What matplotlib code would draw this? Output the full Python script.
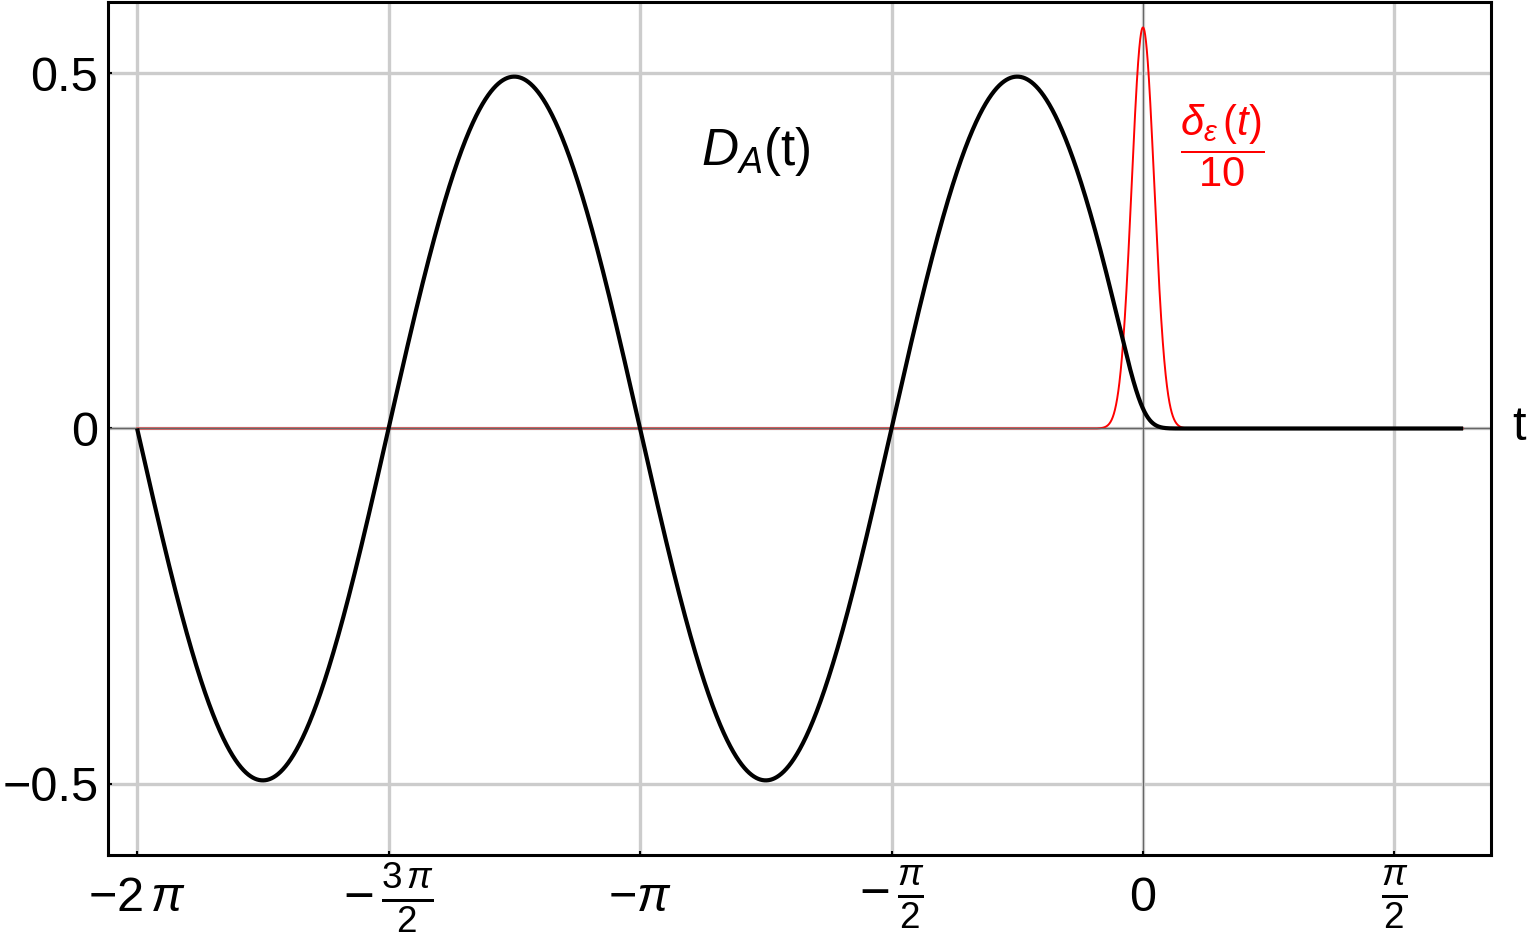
import numpy as np
import matplotlib
matplotlib.use("Agg")
import matplotlib.pyplot as plt

plt.rcParams['font.family'] = ['Liberation Sans', 'DejaVu Sans']
plt.rcParams['mathtext.fontset'] = 'custom'
plt.rcParams['mathtext.rm'] = 'Liberation Sans'
plt.rcParams['mathtext.it'] = 'Liberation Sans:italic'
plt.rcParams['mathtext.bf'] = 'Liberation Sans:bold'

# ---- data / parameters ----
T_START = -2 * np.pi          # curves start at -2 pi
T_END = 2.0                   # curves end near t = 2
AMPLITUDE = 0.5               # D_A oscillates between -0.5 and 0.5
OMEGA = 2.0                   # zeros every pi/2
EPS = 0.1                     # width of the nascent delta (peak of delta/10 ~ 0.564)
DELTA_SCALE = 10              # red curve is delta_eps(t)/10

xtick_vals = [-2 * np.pi, -1.5 * np.pi, -np.pi, -0.5 * np.pi, 0.0, 0.5 * np.pi]
xtick_labels = [r'$-2\,\pi$', r'$-\,\frac{3\,\pi}{2}$', r'$-\pi$',
                r'$-\,\frac{\pi}{2}$', '0', r'$\frac{\pi}{2}$']
ytick_vals = [-0.5, 0.0, 0.5]
ytick_labels = ['\u22120.5', '0', '0.5']
x_limits = [-6.465, 2.174]
y_limits = [-0.6, 0.6]

# ---- curves ----
dt = 0.001
t_full = np.arange(T_START - 1.0, T_END + 1.0, dt)
delta = lambda x: np.exp(-(x / EPS) ** 2) / (EPS * np.sqrt(np.pi))
g = -AMPLITUDE * np.sin(OMEGA * t_full) * (t_full < 0)
k_t = np.arange(-6 * EPS, 6 * EPS + dt / 2, dt)
D_full = np.convolve(g, delta(k_t), mode='same') * dt
mask = (t_full >= T_START) & (t_full <= T_END)
t = t_full[mask]
D_A = D_full[mask]
red = delta(t) / DELTA_SCALE

# ---- figure ----
W, H = 1528, 939
fig = plt.figure(figsize=(W / 100, H / 100), dpi=100)
ax = fig.add_axes([108 / W, 1 - 855 / H, (1491 - 108) / W, (855 - 2) / H])

ax.set_xlim(x_limits)
ax.set_ylim(y_limits)

for xv in xtick_vals:
    ax.axvline(xv, color='#cccccc', lw=2.4, zorder=0)
for yv in ytick_vals:
    ax.axhline(yv, color='#cccccc', lw=2.4, zorder=0)

ax.plot(t, red, color='#ff0000', lw=1.4, zorder=2)
ax.axhline(0, color='#666666', lw=1.0, zorder=2.5)
ax.axvline(0, color='#666666', lw=0.8, zorder=1)
ax.plot(t, D_A, color='black', lw=3.0, zorder=3, solid_capstyle='butt')

ax.set_xticks(xtick_vals)
ax.set_xticklabels(xtick_labels, fontsize=35)
ax.set_yticks(ytick_vals)
ax.set_yticklabels(ytick_labels, fontsize=35)
for lab, txt in zip(ax.get_xticklabels(), xtick_labels):
    lab.set_verticalalignment('center')
    if 'frac' in txt:
        lab.set_fontsize(38)
ax.tick_params(axis='x', direction='in', length=3, width=1.5, pad=31, color='black')
ax.tick_params(axis='y', direction='in', length=3, width=1.5, pad=7, color='black')

for sp in ax.spines.values():
    sp.set_linewidth(2.2)
    sp.set_color('black')

def px(x, y):
    return (x / W, 1 - y / H)

fig.text(*px(1519, 428), 't', fontsize=35, ha='center', va='center')
fig.text(*px(756, 152), r'$D_A$(t)', fontsize=37, ha='center', va='center')
fig.text(*px(1222, 146), r'$\dfrac{\delta_{\epsilon}\,(t)}{10}$', fontsize=30,
         color='#ff0000', ha='center', va='center')

fig.savefig('out.png', dpi=100)
